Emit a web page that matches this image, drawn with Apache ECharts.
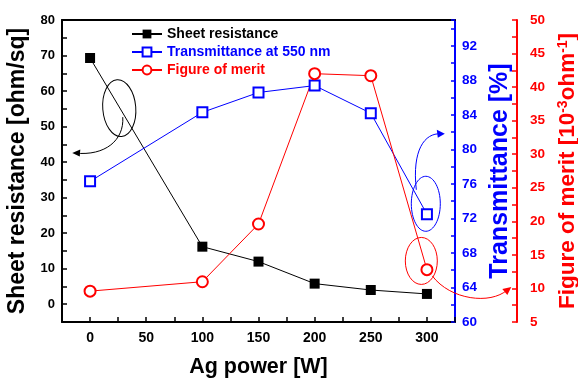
<!DOCTYPE html>
<html><head><meta charset="utf-8">
<script src="https://cdn.jsdelivr.net/npm/echarts@6/dist/echarts.min.js"></script>
<style>html,body{margin:0;padding:0;background:#fff}#c{width:578px;height:380px}</style>
</head><body><div id="c"></div>
<script>
const agPower = [0, 100, 150, 200, 250, 300];
const sheetResistance = [69.3, 16.2, 12.0, 5.8, 4.0, 2.9];
const transmittance = [76.3, 84.3, 86.6, 87.4, 84.2, 72.5];
const figureOfMerit = [9.6, 11.0, 19.6, 42.0, 41.7, 12.8];
const seriesNames = ['Sheet resistance', 'Transmittance at 550 nm', 'Figure of merit'];
const xTicks = [0, 50, 100, 150, 200, 250, 300];
const leftTicks = [0, 10, 20, 30, 40, 50, 60, 70, 80];
const blueTicks = [60, 64, 68, 72, 76, 80, 84, 88, 92];
const redTicks = [5, 10, 15, 20, 25, 30, 35, 40, 45, 50];

const FONT = "'Liberation Sans', Arial, sans-serif";
const BLACK = '#000000', BLUE = '#0000ff', RED = '#ff0000';
const fmt = ticks => v => (ticks.some(t => Math.abs(t - v) < 1e-6) ? String(v) : '');
const pts = ys => agPower.map((x, i) => [x, ys[i]]);

const chart = echarts.init(document.getElementById('c'), null, {renderer: 'canvas'});
chart.setOption({
  animation: false,
  backgroundColor: '#fff',
  grid: {left: 62, right: 123, top: 20, bottom: 58, containLabel: false, outerBoundsMode: 'none'},
  legend: {
    orient: 'vertical', left: 126, top: 22, itemWidth: 30, itemHeight: 11, itemGap: 4,
    textStyle: {fontFamily: FONT, fontWeight: 'bold', fontSize: 14},
    data: [
      {name: seriesNames[0], textStyle: {color: BLACK}},
      {name: seriesNames[1], textStyle: {color: BLUE}},
      {name: seriesNames[2], textStyle: {color: RED}}
    ]
  },
  xAxis: [{
    type: 'value', min: -25, max: 325, interval: 25, position: 'bottom',
    name: 'Ag power [W]', nameLocation: 'middle', nameGap: 34,
    nameTextStyle: {fontFamily: FONT, fontWeight: 'bold', fontSize: 21.5, color: BLACK},
    axisLine: {onZero: false, lineStyle: {color: BLACK, width: 2}},
    axisTick: {inside: true, length: 5, lineStyle: {color: BLACK, width: 1.5}},
    axisLabel: {formatter: fmt(xTicks), fontFamily: FONT, fontWeight: 'bold', fontSize: 14, color: BLACK, margin: 9, showMinLabel: true, showMaxLabel: true},
    splitLine: {show: false}
  }, {
    type: 'value', min: -25, max: 325, position: 'top',
    axisLine: {onZero: false, lineStyle: {color: BLACK, width: 2}},
    axisTick: {show: false}, axisLabel: {show: false}, splitLine: {show: false}
  }],
  yAxis: [{
    type: 'value', min: -5, max: 80, interval: 5, position: 'left',
    name: 'Sheet resistance [ohm/sq]', nameLocation: 'middle', nameRotate: 90, nameGap: 28,
    nameTextStyle: {fontFamily: FONT, fontWeight: 'bold', fontSize: 23, color: BLACK},
    axisLine: {show: true, onZero: false, lineStyle: {color: BLACK, width: 2}},
    axisTick: {inside: true, length: 5, lineStyle: {color: BLACK, width: 1.5}},
    axisLabel: {formatter: fmt(leftTicks), fontFamily: FONT, fontWeight: 'bold', fontSize: 13, color: BLACK, margin: 7},
    splitLine: {show: false}
  }, {
    type: 'value', min: 60, max: 95, interval: 2, position: 'right',
    name: 'Transmittance [%]', nameLocation: 'middle', nameRotate: 90, nameGap: 25,
    nameTextStyle: {fontFamily: FONT, fontWeight: 'bold', fontSize: 25, color: BLUE},
    axisLine: {show: true, onZero: false, lineStyle: {color: BLUE, width: 2}},
    axisTick: {inside: true, length: 4, lineStyle: {color: BLUE, width: 1.5}},
    axisLabel: {formatter: fmt(blueTicks), fontFamily: FONT, fontWeight: 'bold', fontSize: 13.5, color: BLUE, margin: 7},
    splitLine: {show: false}
  }, {
    type: 'value', min: 5, max: 50, interval: 2.5, position: 'right', offset: 62,
    name: 'Figure of merit [10{sup|-3}ohm{sup|-1}]', nameLocation: 'middle', nameRotate: 90, nameGap: 32,
    nameTextStyle: {fontFamily: FONT, fontWeight: 'bold', fontSize: 22.5, color: RED,
      rich: {sup: {fontFamily: FONT, fontWeight: 'bold', fontSize: 14, color: RED, verticalAlign: 'top'}}},
    axisLine: {show: true, onZero: false, lineStyle: {color: RED, width: 2}},
    axisTick: {inside: true, length: 5, lineStyle: {color: RED, width: 1.5}},
    axisLabel: {formatter: fmt(redTicks), fontFamily: FONT, fontWeight: 'bold', fontSize: 13.5, color: RED, margin: 13},
    splitLine: {show: false}
  }],
  series: [{
    name: seriesNames[0], type: 'line', xAxisIndex: 0, yAxisIndex: 0, data: pts(sheetResistance),
    symbol: 'rect', symbolSize: 10, lineStyle: {color: BLACK, width: 1}, itemStyle: {color: BLACK}, z: 3
  }, {
    name: seriesNames[1], type: 'line', xAxisIndex: 0, yAxisIndex: 1, data: pts(transmittance),
    symbol: 'emptyRect', symbolSize: 10, lineStyle: {color: BLUE, width: 1}, itemStyle: {color: BLUE, borderWidth: 1.2}, z: 3
  }, {
    name: seriesNames[2], type: 'line', xAxisIndex: 0, yAxisIndex: 2, data: pts(figureOfMerit),
    symbol: 'emptyCircle', symbolSize: 11, lineStyle: {color: RED, width: 1}, itemStyle: {color: RED, borderWidth: 1.2}, z: 3
  }]
});

// Annotation ellipses and arrows, anchored to data coordinates
const a1 = chart.convertToPixel({seriesIndex: 0}, [26, 55.2]);
const a2 = chart.convertToPixel({seriesIndex: 1}, [299, 73.7]);
const a3 = chart.convertToPixel({seriesIndex: 2}, [295, 14.1]);
const stroke = (c) => ({stroke: c, lineWidth: 1, fill: null});
chart.setOption({
  graphic: [
    {type: 'ellipse', x: a1[0], y: a1[1], rotation: 0.08, shape: {cx: 0, cy: 0, rx: 16.5, ry: 28.5}, style: stroke(BLACK), z: 10},
    {type: 'bezierCurve', x: a1[0], y: a1[1], shape: {x1: 3.5, y1: 9, cpx1: 5, cpy1: 32, cpx2: -14, cpy2: 48, x2: -44, y2: 45}, style: stroke(BLACK), z: 10},
    {type: 'polygon', x: a1[0], y: a1[1], shape: {points: [[-47, 45], [-39, 41.5], [-39.5, 48.5]]}, style: {fill: BLACK}, z: 10},

    {type: 'ellipse', x: a2[0], y: a2[1], shape: {cx: 0, cy: 0, rx: 14.5, ry: 27.5}, style: stroke(BLUE), z: 10},
    {type: 'bezierCurve', x: a2[0], y: a2[1], shape: {x1: -9.5, y1: -14, cpx1: -14, cpy1: -54, cpx2: -1, cpy2: -71, x2: 15, y2: -70}, style: stroke(BLUE), z: 10},
    {type: 'polygon', x: a2[0], y: a2[1], shape: {points: [[19, -70], [11, -74], [12, -66]]}, style: {fill: BLUE}, z: 10},

    {type: 'ellipse', x: a3[0], y: a3[1], shape: {cx: 0, cy: 0, rx: 16, ry: 23.5}, style: stroke(RED), z: 10},
    {type: 'bezierCurve', x: a3[0], y: a3[1], shape: {x1: 11, y1: 15, cpx1: 29, cpy1: 39, cpx2: 69, cpy2: 44, x2: 86, y2: 29}, style: stroke(RED), z: 10},
    {type: 'polygon', x: a3[0], y: a3[1], shape: {points: [[90, 26], [81, 28], [86, 34]]}, style: {fill: RED}, z: 10}
  ]
});
</script>
</body></html>
